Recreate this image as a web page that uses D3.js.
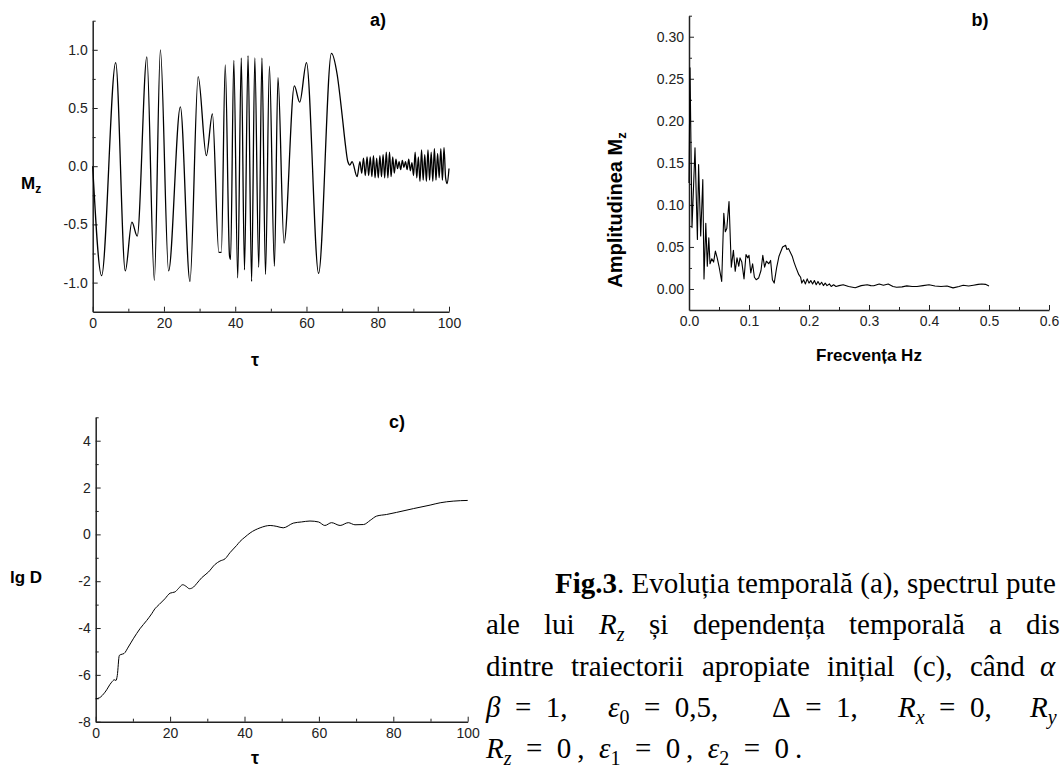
<!DOCTYPE html>
<html><head><meta charset="utf-8">
<script src="https://cdn.jsdelivr.net/npm/d3@7"></script>
<style>body{margin:0;background:#fff}svg{display:block}</style>
</head><body>
<svg id="c" width="1061" height="773"></svg>
<script>
// ---------------- data ----------------
const tauA = [0,2.5,6.45,9.15,11.0,12.5,15.2,17.3,19.0,21.3,24.6,27.3,29.6,31.9,33.6,35.4,36.1,37.2,38.4,38.7,39.6,40.7,41.7,42.6,43.6,44.6,45.5,46.6,47.5,48.5,49.6,51.0,52.0,53.7,56.6,58.1,60.0,63.4,67.0,68.6,70.0,70.9,71.6,72.2,72.8,74.2,
  75.0,75.5,76.0,76.5,77.0,77.45,77.9,78.35,78.8,79.25,79.7,80.15,80.6,81.05,81.5,81.95,82.4,82.85,83.3,83.75,84.2,84.65,85.1,85.55,86.0,86.45,86.9,87.35,87.8,88.25,88.7,89.15,89.6,90.05,90.5,90.95,91.4,91.85,92.3,92.75,93.2,93.65,94.1,94.55,95.0,95.45,95.9,96.35,96.8,97.25,97.7,98.15,98.6,99.05,99.5,100];
const mzA = [0,-0.94,0.89,-0.90,-0.48,-0.60,0.94,-0.98,1.0,-0.90,0.51,-0.99,0.77,0.09,0.45,-0.74,-0.74,0.87,-0.77,-0.80,0.91,-0.96,0.93,-0.89,0.95,-0.99,0.93,-0.87,0.93,-0.93,0.86,-0.86,0.76,-0.66,0.69,0.55,0.89,-0.92,0.97,0.79,0.44,0.19,0.04,0.01,0.04,-0.09,
  0.04,-0.06,0.07,-0.08,0.08,-0.08,0.08,-0.09,0.09,-0.10,0.07,-0.10,0.09,-0.09,0.10,-0.10,0.12,-0.10,0.12,-0.09,0.08,-0.06,0.06,-0.02,0.04,-0.03,0.05,-0.01,0.04,-0.03,0.06,-0.04,0.03,-0.08,0.12,-0.10,0.08,-0.13,0.14,-0.12,0.10,-0.13,0.14,-0.12,0.12,-0.13,0.15,-0.12,0.11,-0.10,0.15,-0.12,0.16,-0.10,-0.15,-0.02];

const freqB = [0,0.0017,0.005,0.010,0.014,0.016,0.0195,0.023,0.025,0.028,0.0305,0.033,0.035,0.038,0.041,0.044,0.047,0.050,0.0545,0.058,0.0605,0.063,0.0667,0.0705,0.074,0.077,0.080,0.083,0.085,0.088,0.0917,0.095,0.098,0.100,0.103,0.106,0.109,0.112,0.116,0.120,0.123,0.126,0.129,0.133,0.136,0.139,0.142,0.146,0.150,0.156,0.161,0.163,0.166,0.168,0.172,0.175,0.178,0.183,0.186,0.188,0.191,0.194,0.197,0.200,0.203,0.206,0.209,0.212,0.215,0.218,0.221,0.224,0.227,0.230,0.234,0.237,0.241,0.245,0.25,0.257,0.266,0.277,0.287,0.297,0.303,0.308,0.317,0.324,0.332,0.340,0.346,0.355,0.363,0.372,0.38,0.39,0.40,0.41,0.42,0.43,0.44,0.45,0.457,0.466,0.474,0.482,0.488,0.494,0.5];
const ampB = [0.126,0.263,0.073,0.168,0.059,0.148,0.063,0.130,0.012,0.078,0.027,0.061,0.030,0.036,0.032,0.045,0.037,0.027,0.009,0.090,0.068,0.072,0.104,0.026,0.046,0.021,0.037,0.027,0.037,0.032,0.012,0.041,0.037,0.040,0.019,0.030,0.014,0.011,0.013,0.022,0.040,0.026,0.033,0.030,0.034,0.011,0.007,0.025,0.039,0.050,0.052,0.047,0.048,0.045,0.039,0.032,0.026,0.017,0.014,0.007,0.011,0.006,0.012,0.007,0.010,0.006,0.010,0.005,0.009,0.005,0.008,0.004,0.007,0.004,0.006,0.003,0.005,0.003,0.004,0.005,0.003,0.0015,0.004,0.005,0.004,0.0038,0.006,0.0045,0.006,0.003,0.002,0.0025,0.0037,0.003,0.003,0.004,0.005,0.0035,0.003,0.0035,0.0013,0.003,0.0045,0.0035,0.0045,0.0055,0.006,0.0055,0.0036];

const tauC = [0,1.0,2.5,4.3,5.0,5.45,5.8,6.35,6.8,7.6,8.77,10.1,11.9,13.7,15.05,15.9,17.1,18.6,20.0,21.3,22.2,23.4,24.3,25.2,26.3,27.1,28.5,30.3,32.1,33.4,34.8,36.1,37.9,38.8,40.1,41.5,44.2,46.9,48.7,50.4,53.1,55.3,57.6,59.9,61.6,63.4,65.7,67.9,69.7,72.0,73.8,75.5,78.2,80.9,85.4,89.9,92.6,96.1,100];
const lgdC = [-7.02,-6.98,-6.74,-6.31,-6.21,-6.24,-6.03,-5.17,-5.13,-5.09,-4.81,-4.46,-4.03,-3.68,-3.39,-3.18,-2.99,-2.75,-2.51,-2.46,-2.32,-2.15,-2.22,-2.32,-2.25,-2.11,-1.85,-1.61,-1.28,-1.14,-1.04,-0.78,-0.47,-0.30,-0.12,0.06,0.28,0.38,0.34,0.28,0.48,0.53,0.57,0.53,0.38,0.50,0.38,0.50,0.41,0.42,0.60,0.78,0.85,0.94,1.10,1.25,1.35,1.42,1.45];

const xTicksA = [0,20,40,60,80,100], xLabelsA = ["0","20","40","60","80","100"];
const yTicksA = [-1,-0.5,0,0.5,1], yLabelsA = ["-1.0","-0.5","0.0","0.5","1.0"];
const xTicksB = [0,0.1,0.2,0.3,0.4,0.5,0.6], xLabelsB = ["0.0","0.1","0.2","0.3","0.4","0.5","0.6"];
const yTicksB = [0,0.05,0.10,0.15,0.20,0.25,0.30], yLabelsB = ["0.00","0.05","0.10","0.15","0.20","0.25","0.30"];
const yTicksC = [-8,-6,-4,-2,0,2,4], yLabelsC = ["-8","-6","-4","-2","0","2","4"];

// ---------------- drawing ----------------
const svg = d3.select("#c");
const SANS = "Liberation Sans, Arial, sans-serif";
const SERIF = "Liberation Serif, Times New Roman, serif";

function panel(c){
  const x = d3.scaleLinear().domain(c.xd).range(c.xr);
  const y = d3.scaleLinear().domain(c.yd).range(c.yr);
  const g = svg.append("g");
  const fmt = (labels)=> (d,i)=>labels[i];
  g.append("g").attr("transform",`translate(0,${c.yr[0]})`)
    .call(d3.axisBottom(x).tickValues(c.xm).tickFormat(()=>"").tickSizeInner(-3).tickSizeOuter(0))
    .call(s=>s.select(".domain").remove());
  g.append("g").attr("transform",`translate(${c.xr[0]},0)`)
    .call(d3.axisLeft(y).tickValues(c.ym).tickFormat(()=>"").tickSizeInner(-3).tickSizeOuter(0))
    .call(s=>s.select(".domain").remove());
  const gx = g.append("g").attr("transform",`translate(0,${c.yr[0]})`)
    .call(d3.axisBottom(x).tickValues(c.xt).tickFormat(fmt(c.xl)).tickSizeInner(-5).tickSizeOuter(0).tickPadding(6));
  const gy = g.append("g").attr("transform",`translate(${c.xr[0]},0)`)
    .call(d3.axisLeft(y).tickValues(c.yt).tickFormat(fmt(c.yl)).tickSizeInner(-5).tickSizeOuter(0).tickPadding(5));
  [gx,gy].forEach(a=>{
    a.attr("font-family",SANS).attr("font-size",14);
    a.selectAll("text").attr("fill","#222");
    a.select(".domain").attr("stroke","#222").attr("stroke-width",1.5);
  });
  g.selectAll(".tick line").attr("stroke","#222");
  const line = d3.line().x((d,i)=>x(c.xs[i])).y((d,i)=>y(c.ys[i])).curve(c.curve);
  g.append("path").datum(c.ys).attr("d",line).attr("fill","none")
    .attr("stroke","#000").attr("stroke-width",c.sw).attr("stroke-linejoin","round");
  return {x,y};
}

panel({xd:[0,100], xr:[92.7,449], yd:[-1.25,1.25], yr:[311.7,20.7],
  xt:xTicksA, xl:xLabelsA, yt:yTicksA, yl:yLabelsA,
  xm:[10,30,50,70,90], ym:[-0.75,-0.25,0.25,0.75,1.25],
  xs:tauA, ys:mzA, curve:d3.curveMonotoneX, sw:1.3});

panel({xd:[0,0.6], xr:[689,1049], yd:[-0.025,0.325], yr:[310,15.7],
  xt:xTicksB, xl:xLabelsB, yt:yTicksB, yl:yLabelsB,
  xm:[0.05,0.15,0.25,0.35,0.45,0.55], ym:[0.025,0.075,0.125,0.175,0.225,0.275,0.325],
  xs:freqB, ys:ampB, curve:d3.curveLinear, sw:1.1});

panel({xd:[0,100], xr:[95.7,467.7], yd:[-8,5], yr:[721.7,417.3],
  xt:xTicksA, xl:xLabelsA, yt:yTicksC, yl:yLabelsC,
  xm:[10,30,50,70,90], ym:[-7,-5,-3,-1,1,3,5],
  xs:tauC, ys:lgdC, curve:d3.curveMonotoneX, sw:1.0});

function lab(x,y,parts,opt={}){
  const t = svg.append("text").attr("x",x).attr("y",y)
    .attr("font-family",opt.serif?SERIF:SANS).attr("font-weight",opt.serif?"normal":"bold")
    .attr("font-size",opt.size||17).attr("text-anchor",opt.anchor||"start").attr("fill","#000")
    .attr("xml:space","preserve").style("white-space","pre");
  if(opt.rot) t.attr("transform",`rotate(-90,${x},${y})`);
  let shift=0;
  parts.forEach(p=>{
    const s = typeof p==="string"?{t:p}:p;
    const ts = t.append("tspan").text(s.t);
    const want = s.sub?(s.sub):0;
    if(want!==shift){ ts.attr("dy",want-shift); shift=want; }
    if(s.size) ts.attr("font-size",s.size);
    if(s.b) ts.attr("font-weight","bold");
    if(s.i) ts.attr("font-style","italic");
  });
  return t;
}
lab(21,189,["M",{t:"z",sub:4,size:12}]);
lab(255,366,["τ"],{anchor:"middle",size:18});
lab(378,26,["a)"],{anchor:"middle",size:18});
lab(980,26,["b)"],{anchor:"middle",size:18});
lab(397,428,["c)"],{anchor:"middle",size:18});
lab(869,361,["Frecvența Hz"],{anchor:"middle",size:17});
lab(622,210,["Amplitudinea M",{t:"z",sub:4,size:13}],{anchor:"middle",rot:true,size:20});
lab(10,583,["lg D"],{size:17});
lab(255,764,["τ"],{anchor:"middle",size:18});

// caption (text is cut by the page edge in the reference; only the visible part is kept)
const CS = 29, SUB = 20;
const EQ = "\u2002=\u2002";
function cap(y, groups){ groups.forEach(gr=>lab(gr.x, y, gr.p, {serif:true,size:CS})); }
cap(593,[{x:555,p:[{t:"Fig.3",b:true},". Evoluția temporală (a), spectrul pute"]}]);
cap(634,[{x:486,p:["ale"]},{x:544,p:["lui"]},{x:599,p:[{t:"R",i:true},{t:"z",i:true,sub:7,size:SUB}]},
  {x:649,p:["și"]},{x:693,p:["dependența"]},{x:849,p:["temporală"]},{x:989,p:["a"]},{x:1026,p:["dis"]}]);
cap(676,[{x:486,p:["dintre"]},{x:571,p:["traiectorii"]},{x:702,p:["apropiate"]},{x:827,p:["inițial"]},
  {x:913,p:["(c),"]},{x:970,p:["când"]},{x:1040,p:[{t:"α",i:true}]}]);
cap(717,[{x:486,p:[{t:"β",i:true},EQ+"1,"]},{x:608,p:[{t:"ε",i:true},{t:"0",sub:7,size:SUB},EQ+"0,5,"]},
  {x:772,p:["Δ"+EQ+"1,"]},{x:898,p:[{t:"R",i:true},{t:"x",i:true,sub:7,size:SUB},EQ+"0,"]},{x:1030,p:[{t:"R",i:true},{t:"y",i:true,sub:7,size:SUB}]}]);
cap(758,[{x:486,p:[{t:"R",i:true},{t:"z",i:true,sub:7,size:SUB},EQ+"0\u2009,\u2002",{t:"ε",i:true},{t:"1",sub:7,size:SUB},EQ+"0\u2009,\u2002",{t:"ε",i:true},{t:"2",sub:7,size:SUB},EQ+"0\u2009."]}]);
</script>
</body></html>
